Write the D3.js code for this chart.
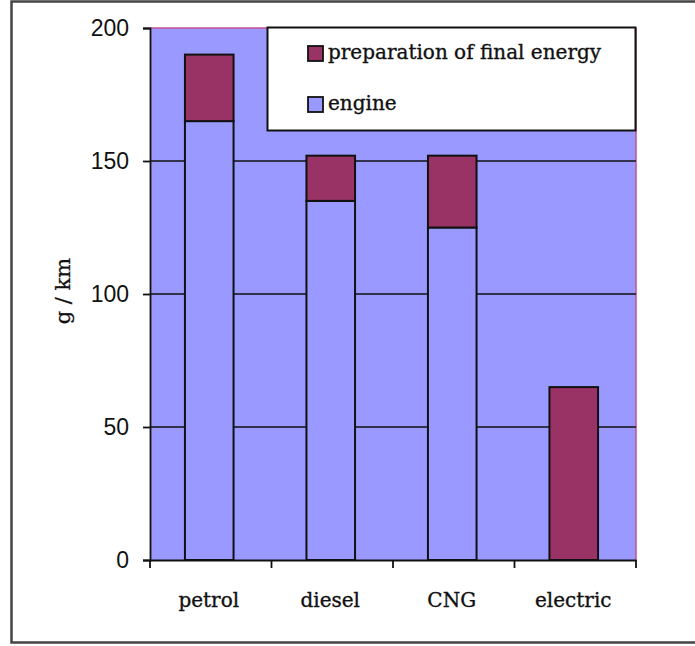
<!DOCTYPE html>
<html>
<head>
<meta charset="utf-8">
<script src="https://cdn.jsdelivr.net/npm/d3@7"></script>
<style>
  html, body { margin: 0; padding: 0; background: #fff; }
  svg { display: block; }
</style>
</head>
<body>
<svg id="chart" width="695" height="646"></svg>
<script>
const categories = ["petrol", "diesel", "CNG", "electric"];
const engine = [165, 135, 125, 0];
const preparation = [25, 17, 27, 65];
const seriesNames = ["preparation of final energy", "engine"];
const yTicks = [0, 50, 100, 150, 200];
const yTitle = "g / km";

const colEngine = "#9999FF";
const colPrep = "#993366";

const svg = d3.select("#chart");
const pLeft = 150, pRight = 636, pTop = 28, pBottom = 560;

// outer frame
svg.append("rect").attr("x", 11.5).attr("y", 1.5).attr("width", 690).attr("height", 641)
  .attr("fill", "#fff").attr("stroke", "#444").attr("stroke-width", 2.5);

const x = d3.scaleBand().domain(categories).range([pLeft, pRight]).paddingInner(0).paddingOuter(0);
const y = d3.scaleLinear().domain([0, 200]).range([pBottom, pTop]);

// plot background
svg.append("rect").attr("x", pLeft).attr("y", pTop).attr("width", pRight - pLeft).attr("height", pBottom - pTop)
  .attr("fill", colEngine);

// top & right border (pinkish)
svg.append("line").attr("x1", pLeft).attr("x2", pRight).attr("y1", pTop).attr("y2", pTop)
  .attr("stroke", "#c2508e").attr("stroke-width", 1.5);
svg.append("line").attr("x1", pRight).attr("x2", pRight).attr("y1", pTop).attr("y2", pBottom)
  .attr("stroke", "#c2508e").attr("stroke-width", 1.5);

// gridlines
svg.append("g").selectAll("line").data(yTicks.filter(d => d > 0 && d < 200)).join("line")
  .attr("x1", pLeft).attr("x2", pRight).attr("y1", d => y(d)).attr("y2", d => y(d))
  .attr("stroke", "#111").attr("stroke-width", 1.6);

// bars
const bw = x.bandwidth() * 0.4;
const stack = categories.map((c, i) => ({ c, e: engine[i], p: preparation[i] }));
const g = svg.append("g");
g.selectAll("rect.eng").data(stack.filter(d => d.e > 0)).join("rect").attr("class", "eng")
  .attr("x", d => x(d.c) + (x.bandwidth() - bw) / 2 - 1.5).attr("width", bw)
  .attr("y", d => y(d.e)).attr("height", d => y(0) - y(d.e))
  .attr("fill", colEngine).attr("stroke", "#111").attr("stroke-width", 2);
g.selectAll("rect.prep").data(stack).join("rect").attr("class", "prep")
  .attr("x", d => x(d.c) + (x.bandwidth() - bw) / 2 - 1.5).attr("width", bw)
  .attr("y", d => y(d.e + d.p)).attr("height", d => y(d.e) - y(d.e + d.p))
  .attr("fill", colPrep).attr("stroke", "#111").attr("stroke-width", 2);

// y axis
const yAxis = d3.axisLeft(y).tickValues(yTicks).tickSize(7).tickPadding(14);
const ya = svg.append("g").attr("transform", `translate(${pLeft},0)`).call(yAxis);
ya.select(".domain").attr("stroke", "#111").attr("stroke-width", 1.8);
ya.selectAll(".tick line").attr("stroke", "#111").attr("stroke-width", 1.8);
ya.selectAll(".tick text").attr("font-family", "Liberation Sans, Arial, sans-serif")
  .attr("font-size", 23).attr("fill", "#111");

// x axis
const xa = svg.append("g").attr("transform", `translate(0,${pBottom})`)
  .call(d3.axisBottom(x).tickSize(0).tickPadding(0));
xa.select(".domain").attr("stroke", "#111").attr("stroke-width", 1.8);
xa.selectAll(".tick text").attr("font-family", "DejaVu Serif, serif").attr("font-size", 20)
  .attr("fill", "#111").attr("stroke", "#111").attr("stroke-width", 0.35)
  .attr("dy", 0).attr("y", 47).attr("dx", -2);
// boundary ticks
const bounds = categories.map(c => x(c)).concat([x.range()[1]]);
svg.append("g").selectAll("line").data(bounds).join("line")
  .attr("x1", d => d).attr("x2", d => d).attr("y1", pBottom).attr("y2", pBottom + 8)
  .attr("stroke", "#111").attr("stroke-width", 1.8);

// y title
svg.append("text").attr("transform", `translate(70,291) rotate(-90)`)
  .attr("text-anchor", "middle").attr("font-family", "DejaVu Serif, serif").attr("font-size", 21)
  .attr("fill", "#111").attr("stroke", "#111").attr("stroke-width", 0.3).text(yTitle);

// legend
const lg = svg.append("g");
lg.append("rect").attr("x", 267.5).attr("y", 27.5).attr("width", 368).attr("height", 103)
  .attr("fill", "#fff").attr("stroke", "#111").attr("stroke-width", 2);
const lcols = [colPrep, colEngine];
const rows = [53, 104];
seriesNames.forEach((n, i) => {
  lg.append("rect").attr("x", 308).attr("y", rows[i] - 7).attr("width", 15).attr("height", 15)
    .attr("fill", lcols[i]).attr("stroke", "#111").attr("stroke-width", 1.8);
  lg.append("text").attr("x", 328).attr("y", rows[i] + 6).attr("font-family", "DejaVu Serif, serif")
    .attr("font-size", 20).attr("fill", "#111").attr("stroke", "#111").attr("stroke-width", 0.35).text(n);
});
</script>
</body>
</html>
